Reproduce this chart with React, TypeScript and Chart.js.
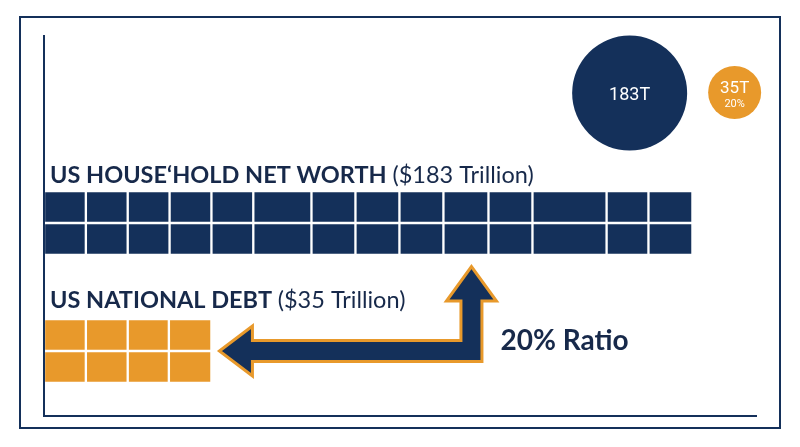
import React, { useEffect, useRef } from 'react';
import { Chart, registerables } from 'chart.js';

Chart.register(...registerables);

const NAVY = '#14305A';
const ORANGE = '#E8992B';
const TEXT_NAVY = '#17294A';

// Block widths (trillion-equivalent units)
const netWorthColumns = [11.8, 11.8, 11.8, 11.8, 11.8, 16.4, 12.4, 12.4, 12.4, 12.7, 12.4, 20.9, 11.8, 12.4];
const netWorthRows = [0, 1];
const debtColumns = [11.8, 11.8, 11.6, 12.0];
const debtRows = [4, 5];

// Bubbles
const bubbleValues = [183, 35];
const bubbleLabels = ['183T', '35T'];
const bubbleSubLabels = ['', '20%'];
const bubbleX = [165.1, 194.7];
const bubbleY = [-3.56, -3.58];
const bubbleRadius = [57.5, 26.5];

// Texts
const netWorthTitle = ['US HOUSE\u2018HOLD NET WORTH ', '($183 Trillion)'];
const debtTitle = ['US NATIONAL DEBT ', '($35 Trillion)'];
const ratioLabel = '20% Ratio';
const arrowTurnValue = 120.5;

function buildSegments(cols: number[], rows: number[]) {
  const out: { x: [number, number]; y: number }[] = [];
  rows.forEach((r) => {
    let s = 0;
    cols.forEach((w) => {
      out.push({ y: r, x: [s, s + w] });
      s += w;
    });
  });
  return out;
}

const sum = (a: number[]) => a.reduce((p, c) => p + c, 0);

const decorPlugin = {
  id: 'decor',
  afterDatasetsDraw(chart: any) {
    const ctx = chart.ctx as CanvasRenderingContext2D;
    const { chartArea } = chart;
    const xs = chart.scales.x;
    const ys = chart.scales.y;
    ctx.save();

    // Frame
    ctx.strokeStyle = NAVY;
    ctx.lineWidth = 2;
    ctx.strokeRect(20, 17, 760, 411);

    // Axes
    ctx.beginPath();
    ctx.moveTo(chartArea.left, chartArea.top);
    ctx.lineTo(chartArea.left, chartArea.bottom);
    ctx.lineTo(chartArea.right, chartArea.bottom);
    ctx.stroke();

    // Titles
    const drawTitle = (parts: string[], y: number, size: number) => {
      let x = chartArea.left + 6;
      ctx.textBaseline = 'alphabetic';
      ctx.textAlign = 'left';
      ctx.fillStyle = TEXT_NAVY;
      ctx.font = `bold ${size}px Lato, "Open Sans", sans-serif`;
      ctx.fillText(parts[0], x, y);
      x += ctx.measureText(parts[0]).width;
      ctx.font = `${size}px Lato, "Open Sans", sans-serif`;
      ctx.fillText(parts[1], x, y);
    };
    const r0 = ys.getPixelForValue(netWorthRows[0]);
    const d0 = ys.getPixelForValue(debtRows[0]);
    drawTitle(netWorthTitle, r0 - 24, 23.5);
    drawTitle(debtTitle, d0 - 27, 23.5);

    // Arrow
    const hy = (ys.getPixelForValue(debtRows[0]) + ys.getPixelForValue(debtRows[1])) / 2;
    const hx = xs.getPixelForValue(arrowTurnValue);
    const leftTip = xs.getPixelForValue(sum(debtColumns)) + 8;
    const lbase = leftTip + 33;
    const upTip = ys.getPixelForValue(netWorthRows[1]) + 16 + 11.5;
    const ubase = upTip + 34.5;
    const t = 10.5;
    const hw = 25;
    ctx.beginPath();
    ctx.moveTo(leftTip, hy);
    ctx.lineTo(lbase, hy - hw);
    ctx.lineTo(lbase, hy - t);
    ctx.lineTo(hx - t, hy - t);
    ctx.lineTo(hx - t, ubase);
    ctx.lineTo(hx - hw, ubase);
    ctx.lineTo(hx, upTip);
    ctx.lineTo(hx + hw, ubase);
    ctx.lineTo(hx + t, ubase);
    ctx.lineTo(hx + t, hy + t);
    ctx.lineTo(lbase, hy + t);
    ctx.lineTo(lbase, hy + hw);
    ctx.closePath();
    ctx.fillStyle = NAVY;
    ctx.fill();
    ctx.strokeStyle = ORANGE;
    ctx.lineWidth = 3;
    ctx.lineJoin = 'miter';
    ctx.stroke();

    // Ratio label
    ctx.fillStyle = TEXT_NAVY;
    ctx.font = 'bold 28px Lato, "Open Sans", sans-serif';
    ctx.textAlign = 'left';
    ctx.textBaseline = 'alphabetic';
    ctx.fillText(ratioLabel, hx + 29, hy - 1);

    // Bubble labels
    const meta = chart.getDatasetMeta(1);
    meta.data.forEach((el: any, i: number) => {
      ctx.fillStyle = '#FFFFFF';
      ctx.textAlign = 'center';
      ctx.textBaseline = 'alphabetic';
      if (bubbleSubLabels[i]) {
        ctx.font = '17px Roboto, sans-serif';
        ctx.fillText(bubbleLabels[i], el.x, el.y + 1);
        ctx.font = '11px Roboto, sans-serif';
        ctx.fillText(bubbleSubLabels[i], el.x, el.y + 15);
      } else {
        ctx.font = '18px Roboto, sans-serif';
        ctx.fillText(bubbleLabels[i], el.x, el.y + 7);
      }
    });

    ctx.restore();
  },
};

export default function App() {
  const ref = useRef<HTMLCanvasElement>(null);

  useEffect(() => {
    document.body.style.margin = '0';
    const canvas = ref.current!;
    const nw = buildSegments(netWorthColumns, netWorthRows);
    const db = buildSegments(debtColumns, debtRows);
    const data = [...nw, ...db];
    const colors = [...nw.map(() => NAVY), ...db.map(() => ORANGE)];

    const chart = new Chart(canvas, {
      type: 'bar',
      data: {
        datasets: [
          {
            type: 'bar',
            indexAxis: 'y',
            data: data as any,
            backgroundColor: colors,
            borderColor: '#FFFFFF',
            borderWidth: 1.5,
            borderSkipped: false,
            barThickness: 32,
          } as any,
          {
            type: 'bubble',
            data: bubbleValues.map((v, i) => ({ x: bubbleX[i], y: bubbleY[i], r: bubbleRadius[i], v })),
            backgroundColor: [NAVY, ORANGE],
            borderWidth: 0,
            clip: false,
          } as any,
        ],
      },
      options: {
        responsive: false,
        animation: false,
        devicePixelRatio: 1,
        events: [],
        layout: { autoPadding: false, padding: { left: 44, top: 35, right: 43, bottom: 31 } },
        plugins: { legend: { display: false }, tooltip: { enabled: false } },
        scales: {
          x: { type: 'linear', min: 0, max: 201, offset: false, display: false },
          y: { type: 'linear', min: -5.375, max: 6.531, reverse: true, offset: false, display: false },
        },
      },
      plugins: [decorPlugin],
    });
    return () => chart.destroy();
  }, []);

  return (
    <div style={{ position: 'absolute', left: 0, top: 0, width: 800, height: 447, background: '#fff' }}>
      <canvas ref={ref} width={800} height={447} />
    </div>
  );
}
